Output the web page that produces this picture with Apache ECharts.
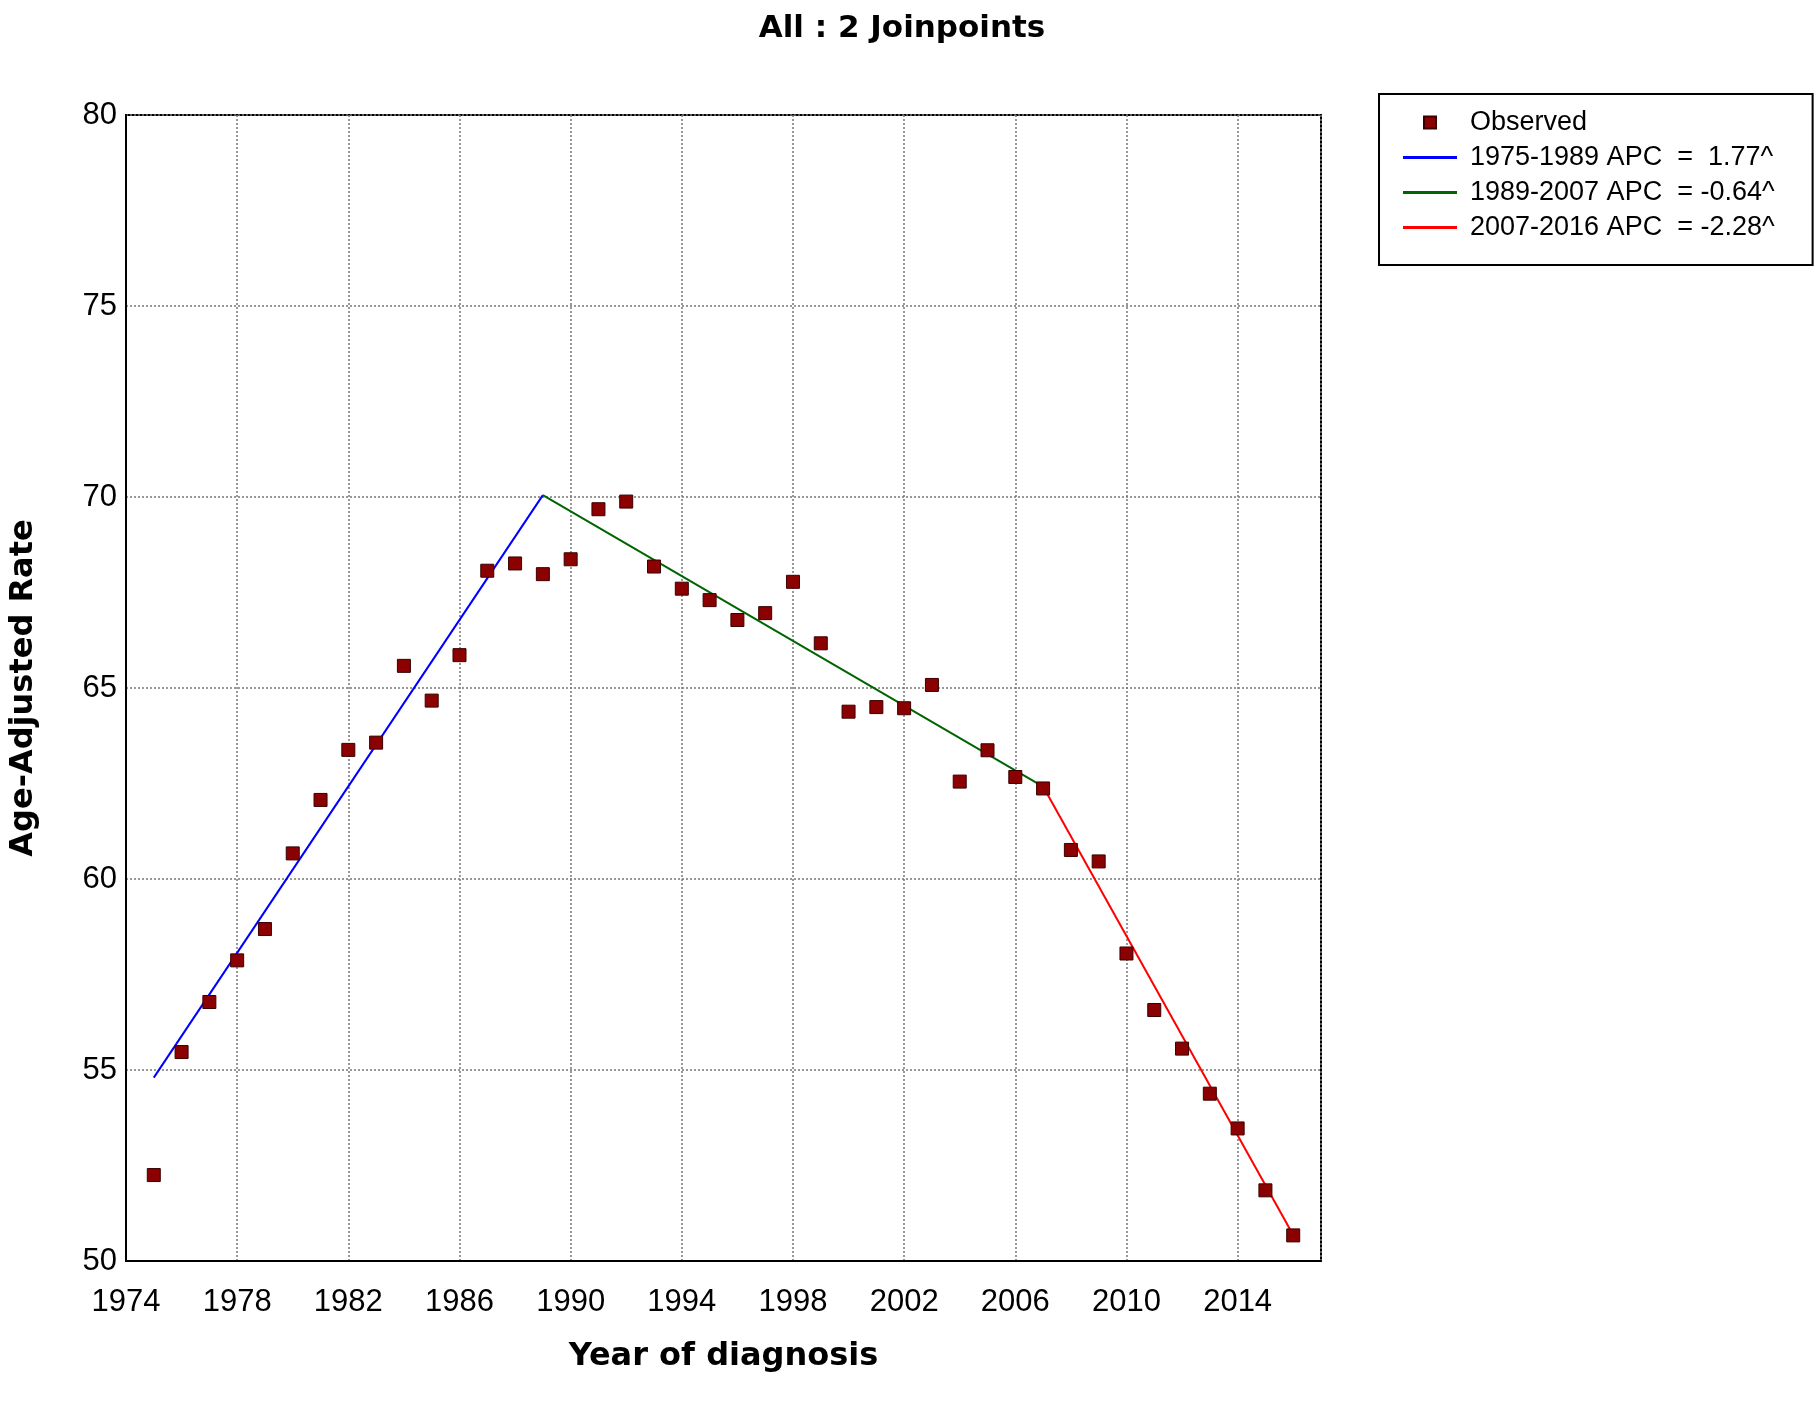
<!DOCTYPE html>
<html>
<head>
<meta charset="utf-8">
<title>All : 2 Joinpoints</title>
<script src="https://cdn.jsdelivr.net/npm/echarts@6/dist/echarts.min.js"></script>
<style>
  html, body { margin: 0; padding: 0; background: #fff; }
  #chart { width: 1819px; height: 1409px; }
</style>
</head>
<body>
<div id="chart"></div>
<script>
// observed age-adjusted rates, one per year
const years = [1975, 1976, 1977, 1978, 1979, 1980, 1981, 1982, 1983, 1984, 1985, 1986, 1987, 1988,
  1989, 1990, 1991, 1992, 1993, 1994, 1995, 1996, 1997, 1998, 1999, 2000, 2001, 2002, 2003,
  2004, 2005, 2006, 2007, 2008, 2009, 2010, 2011, 2012, 2013, 2014, 2015, 2016]
const observed = [52.25, 55.47, 56.78, 57.87, 58.69, 60.67, 62.07, 63.38, 63.57, 65.58, 64.67, 65.86, 68.07, 68.26,
  67.98, 68.37, 69.68, 69.88, 68.18, 67.6, 67.3, 66.78, 66.96, 67.78, 66.17, 64.38, 64.5, 64.47, 65.08,
  62.55, 63.37, 62.67, 62.37, 60.76, 60.46, 58.05, 56.57, 55.56, 54.38, 53.47, 51.85, 50.67]

// joinpoint model: segment ends and fitted values there
const fitYears = [1975, 1989, 2007, 2016]
const fitValues = [54.8, 70.05, 62.42, 50.68]
const apcLabels = [' 1.77^', '-0.64^', '-2.28^']
const segColors = ['#0000ff', '#006400', '#ff0000']

const xTicks = { min: 1974, max: 2017, interval: 4 }
const yTicks = { min: 50, max: 80, interval: 5 }

const chart = echarts.init(document.getElementById('chart'))

const segSeries = apcLabels.map((apc, i) => ({
  name: fitYears[i] + '-' + fitYears[i + 1] + ' APC  = ' + apc,
  type: 'line',
  symbol: 'none',
  z: 3,
  lineStyle: { color: segColors[i], width: 2 },
  itemStyle: { color: segColors[i] },
  data: [[fitYears[i], fitValues[i]], [fitYears[i + 1], fitValues[i + 1]]]
}))

const labelFont = 'Liberation Sans, Arial, sans-serif'
const boldFont = 'DejaVu Sans, Verdana, sans-serif'

chart.setOption({
  animation: false,
  backgroundColor: '#fff',
  title: {
    text: 'All : 2 Joinpoints',
    left: 897,
    top: 8,
    textAlign: 'center',
    textStyle: { fontFamily: boldFont, fontWeight: 'bold', fontSize: 31, color: '#000' }
  },
  legend: {
    orient: 'vertical',
    left: 1379,
    top: 94,
    padding: [15, 38, 24, 24],
    borderColor: '#000',
    borderWidth: 2,
    itemWidth: 54,
    itemHeight: 12,
    itemGap: 8,
    textStyle: { fontFamily: labelFont, fontSize: 27, color: '#000', padding: [0, 0, 0, 8] },
    data: [{ name: 'Observed', icon: 'path://M0 0H10V10H0Z' }].concat(
      segSeries.map(s => ({ name: s.name, icon: 'path://M0 0H54V3H0Z' })))
  },
  grid: {
    left: 123, top: 115, right: 498, bottom: 148,
    show: true, borderColor: '#000', borderWidth: 2
  },
  xAxis: {
    type: 'value',
    min: xTicks.min, max: xTicks.max, interval: xTicks.interval,
    name: 'Year of diagnosis',
    nameLocation: 'middle',
    nameGap: 80,
    nameTextStyle: { fontFamily: boldFont, fontWeight: 'bold', fontSize: 32, color: '#000' },
    axisLine: { lineStyle: { color: '#000', width: 2 } },
    axisTick: { show: false },
    axisLabel: {
      showMaxLabel: false,
      margin: 26,
      fontFamily: labelFont, fontSize: 31, color: '#000',
      formatter: v => String(v)
    },
    splitLine: { lineStyle: { color: '#777', width: 1.5, type: [2, 2] } }
  },
  yAxis: {
    type: 'value',
    min: yTicks.min, max: yTicks.max, interval: yTicks.interval,
    name: 'Age-Adjusted Rate',
    nameLocation: 'middle',
    nameGap: 86,
    nameTextStyle: { fontFamily: boldFont, fontWeight: 'bold', fontSize: 32, color: '#000' },
    axisLine: { show: true, lineStyle: { color: '#000', width: 2 } },
    axisTick: { show: false },
    axisLabel: { margin: 9, fontFamily: labelFont, fontSize: 31, color: '#000' },
    splitLine: { lineStyle: { color: '#777', width: 1.5, type: [2, 2] } }
  },
  series: [
    {
      name: 'Observed',
      type: 'scatter',
      symbol: 'rect',
      symbolSize: 13,
      z: 5,
      itemStyle: { color: '#8b0000', borderColor: '#3a0000', borderWidth: 1, opacity: 1 },
      data: years.map((y, i) => [y, observed[i]])
    }
  ].concat(segSeries)
})
</script>
</body>
</html>
